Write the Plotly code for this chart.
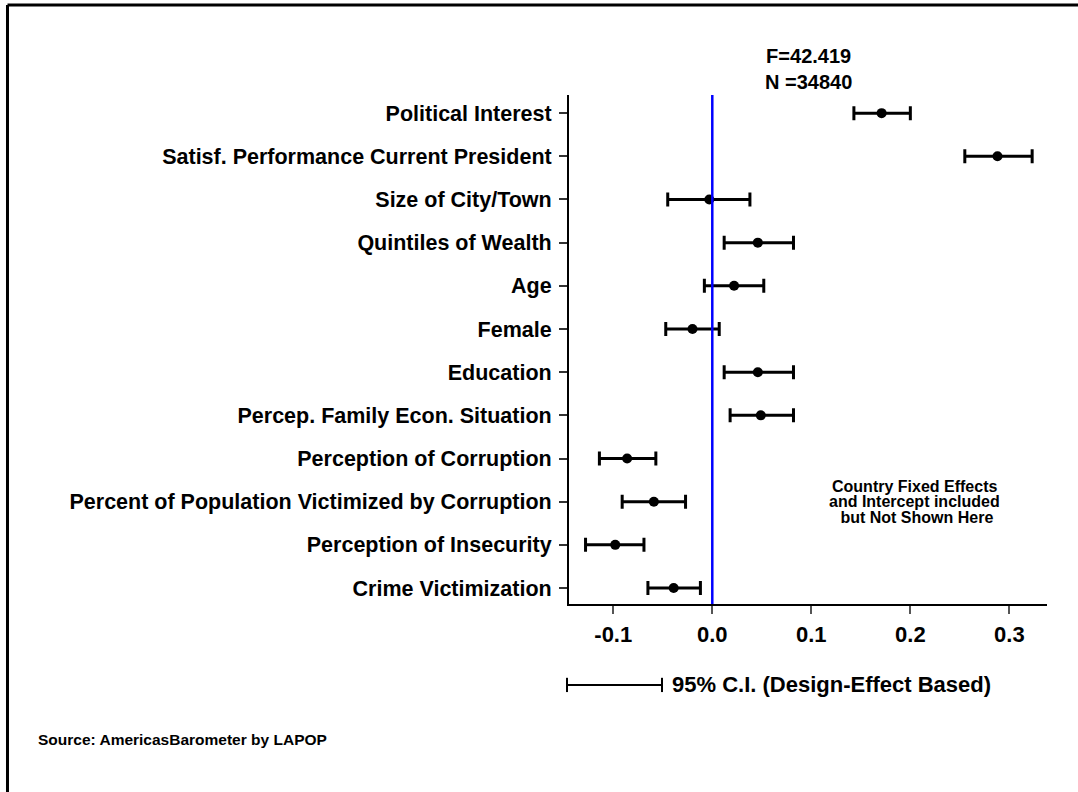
import plotly.graph_objects as go

# coefficients and 95% CI
variables = [
    "Political Interest",
    "Satisf. Performance Current President",
    "Size of City/Town",
    "Quintiles of Wealth",
    "Age",
    "Female",
    "Education",
    "Percep. Family Econ. Situation",
    "Perception of Corruption",
    "Percent of Population Victimized by Corruption",
    "Perception of Insecurity",
    "Crime Victimization",
]
coef = [0.171, 0.288, -0.003, 0.046, 0.022, -0.020, 0.046, 0.049, -0.086, -0.059, -0.098, -0.039]
ci_low = [0.143, 0.255, -0.045, 0.012, -0.008, -0.047, 0.012, 0.018, -0.114, -0.091, -0.128, -0.065]
ci_high = [0.200, 0.323, 0.038, 0.082, 0.052, 0.007, 0.082, 0.082, -0.057, -0.027, -0.069, -0.012]
x_ticks = [-0.1, 0.0, 0.1, 0.2, 0.3]
x_labels = ["-0.1", "0.0", "0.1", "0.2", "0.3"]
stats_text = "F=42.419<br>N =34840"
note_lines = ["Country Fixed Effects", "and Intercept included", " but Not Shown Here"]
legend_text = "95% C.I. (Design-Effect Based)"
source_text = "Source: AmericasBarometer by LAPOP"

FONT = "Liberation Sans, Arial, sans-serif"
ypos = list(range(len(variables) - 1, -1, -1))

fig = go.Figure()
fig.add_trace(
    go.Scatter(
        x=coef,
        y=ypos,
        mode="markers",
        marker=dict(color="black", size=10),
        error_x=dict(
            type="data",
            symmetric=False,
            array=[h - c for h, c in zip(ci_high, coef)],
            arrayminus=[c - l for l, c in zip(ci_low, coef)],
            color="black",
            thickness=3,
            width=7,
        ),
        showlegend=False,
    )
)

shapes = [
    # zero line
    dict(type="line", xref="x", yref="paper", x0=0, x1=0, y0=0, y1=1,
         line=dict(color="#0000ff", width=2.5)),
    # outer frame (left + top only)
    dict(type="line", xref="paper", yref="paper", x0=-1.1747, x1=-1.1747, y0=1.1768, y1=-0.5,
         line=dict(color="black", width=3)),
    dict(type="line", xref="paper", yref="paper", x0=-1.1747, x1=1.2, y0=1.1768, y1=1.1768,
         line=dict(color="black", width=3)),
    # CI legend sample
    dict(type="line", xref="paper", yref="paper", x0=-0.0042, x1=0.1946, y0=-0.159, y1=-0.159,
         line=dict(color="black", width=2)),
    dict(type="line", xref="paper", yref="paper", x0=-0.0042, x1=-0.0042, y0=-0.145, y1=-0.173,
         line=dict(color="black", width=2)),
    dict(type="line", xref="paper", yref="paper", x0=0.1946, x1=0.1946, y0=-0.145, y1=-0.173,
         line=dict(color="black", width=2)),
]

bold = dict(family=FONT, color="black", weight="bold")
annotations = [
    dict(text=stats_text, xref="paper", yref="paper", x=0.5, y=1.052, showarrow=False,
         xanchor="center", yanchor="middle", font=dict(size=20, **bold)),
]
for txt, yy in zip(note_lines, [0.2318, 0.2004, 0.1697]):
    annotations.append(dict(text=txt, xref="paper", yref="paper", x=0.7218, y=yy, showarrow=False,
                            xanchor="center", yanchor="middle", font=dict(size=16, **bold)))
annotations += [
    dict(text=legend_text, xref="paper", yref="paper", x=0.2113, y=-0.159, showarrow=False,
         xanchor="left", yanchor="middle", font=dict(size=22, **bold)),
    dict(text=source_text, xref="paper", yref="paper", x=-1.115, y=-0.267, showarrow=False,
         xanchor="left", yanchor="middle", font=dict(size=15.5, **bold)),
]

fig.update_layout(
    width=1078,
    height=792,
    margin=dict(l=569, r=31, t=95, b=188),
    plot_bgcolor="white",
    paper_bgcolor="white",
    shapes=shapes,
    annotations=annotations,
    xaxis=dict(
        range=[-0.1447, 0.338],
        tickvals=x_ticks,
        ticktext=x_labels,
        showgrid=False,
        zeroline=False,
        showline=True,
        linecolor="black",
        linewidth=2,
        ticks="outside",
        ticklen=8,
        tickwidth=2,
        tickcolor="#555555",
        ticklabelstandoff=2,
        tickfont=dict(size=22, **bold),
    ),
    yaxis=dict(
        range=[-0.37, 11.42],
        tickvals=ypos,
        ticktext=variables,
        showgrid=False,
        zeroline=False,
        showline=True,
        linecolor="black",
        linewidth=2,
        ticks="outside",
        ticklen=8,
        tickwidth=1.5,
        tickcolor="#333333",
        ticklabelstandoff=3,
        tickfont=dict(size=21.5, **bold),
    ),
)

# drop the page's default body margin so the figure sits at the window's corner
fig.write_html(
    "out.html",
    config={"displayModeBar": False},
    post_script="document.body.style.margin='0px';",
)
